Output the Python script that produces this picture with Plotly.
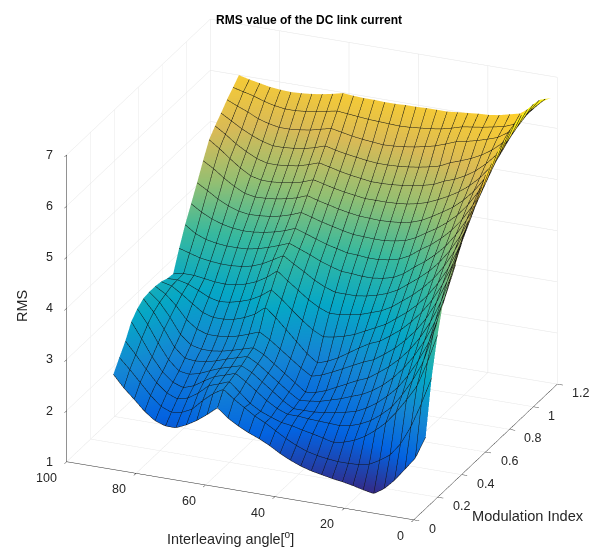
import plotly.graph_objects as go

angle = [0,3,6,9,12,15,18,21,24,27,30,33,36,39,42,45,48,51,54,57,60,63,66,69,72,75,78,81,84,87,90]
mod_index = [0.1,0.15,0.2,0.25,0.3,0.35,0.4,0.45,0.5,0.55,0.6,0.65,0.7,0.75,0.8,0.85,0.9,0.95,1.0,1.05,1.1,1.15]
rms = [
[2.4,1.95,1.7,1.45,1.25,1.12,1.16,1.21,1.25,1.28,1.32,1.36,1.42,1.5,1.6,1.72,1.82,1.9,2.0,2.12,2.29,2.12,1.97,1.85,1.76,1.76,1.83,1.98,2.18,2.37,2.6],
[3.45,2.9,2.42,2.05,1.8,1.66,1.55,1.51,1.5,1.5,1.52,1.55,1.6,1.68,1.78,1.9,2.02,2.12,2.25,2.38,2.54,2.42,2.25,2.05,1.95,1.92,2.0,2.18,2.4,2.62,2.82],
[4.18,3.6,3.1,2.8,2.52,2.28,2.1,1.95,1.84,1.77,1.73,1.78,1.83,1.87,1.92,1.95,2.02,2.1,2.22,2.4,2.58,2.5,2.43,2.25,2.12,2.07,2.15,2.32,2.55,2.8,3.03],
[4.76,4.05,3.45,3.07,2.75,2.48,2.3,2.15,2.05,1.98,1.95,1.96,1.97,1.98,2.0,2.0,2.08,2.2,2.35,2.5,2.63,2.56,2.5,2.38,2.25,2.18,2.25,2.42,2.68,3.0,3.3],
[5.0,4.3,3.74,3.35,3.02,2.75,2.55,2.38,2.25,2.15,2.1,2.06,2.03,2.0,2.0,2.0,2.12,2.27,2.42,2.57,2.67,2.61,2.55,2.47,2.38,2.33,2.36,2.55,2.84,3.17,3.44],
[5.22,4.55,4.02,3.62,3.29,3.02,2.8,2.62,2.48,2.37,2.3,2.22,2.16,2.1,2.07,2.05,2.18,2.33,2.48,2.63,2.74,2.68,2.62,2.55,2.5,2.48,2.5,2.68,3.0,3.3,3.53],
[5.52,4.85,4.3,3.88,3.54,3.27,3.05,2.87,2.72,2.58,2.5,2.4,2.3,2.2,2.13,2.1,2.25,2.4,2.55,2.7,2.8,2.74,2.68,2.63,2.6,2.6,2.65,2.82,3.12,3.38,3.55],
[5.8,5.13,4.58,4.15,3.8,3.53,3.31,3.12,2.97,2.83,2.75,2.65,2.55,2.45,2.36,2.3,2.43,2.58,2.73,2.88,3.0,2.92,2.85,2.8,2.78,2.78,2.85,3.0,3.24,3.43,3.55],
[6.03,5.36,4.82,4.39,4.05,3.78,3.56,3.37,3.22,3.08,3.0,2.88,2.75,2.62,2.52,2.45,2.6,2.8,3.0,3.2,3.37,3.2,3.1,3.03,3.0,3.0,3.06,3.2,3.35,3.48,3.53],
[6.22,5.56,5.03,4.6,4.27,4.0,3.78,3.6,3.45,3.3,3.2,3.1,3.0,2.93,2.88,2.85,2.95,3.1,3.27,3.45,3.6,3.45,3.34,3.27,3.22,3.2,3.25,3.35,3.44,3.49,3.48],
[6.42,5.76,5.24,4.82,4.49,4.22,4.01,3.83,3.68,3.53,3.42,3.35,3.28,3.24,3.21,3.2,3.28,3.4,3.55,3.7,3.86,3.7,3.58,3.5,3.45,3.43,3.44,3.47,3.5,3.5,3.46],
[6.53,5.92,5.42,5.01,4.69,4.43,4.22,4.05,3.9,3.75,3.65,3.58,3.53,3.5,3.5,3.5,3.57,3.67,3.8,3.92,4.05,3.93,3.82,3.74,3.7,3.68,3.68,3.7,3.73,3.79,3.85],
[6.65,6.06,5.58,5.2,4.89,4.63,4.43,4.26,4.12,3.96,3.85,3.8,3.77,3.77,3.79,3.8,3.86,3.93,4.02,4.1,4.18,4.1,4.03,3.97,3.93,3.92,3.92,3.94,3.98,4.06,4.2],
[6.73,6.2,5.75,5.37,5.07,4.83,4.64,4.48,4.35,4.2,4.1,4.05,4.02,4.02,4.04,4.05,4.1,4.15,4.22,4.29,4.36,4.28,4.22,4.18,4.15,4.14,4.16,4.2,4.27,4.37,4.5],
[6.82,6.32,5.9,5.54,5.25,5.02,4.84,4.69,4.57,4.44,4.35,4.31,4.28,4.28,4.29,4.3,4.34,4.39,4.44,4.5,4.56,4.48,4.42,4.38,4.36,4.35,4.38,4.45,4.55,4.68,4.8],
[6.9,6.42,6.02,5.68,5.41,5.2,5.03,4.9,4.78,4.67,4.6,4.56,4.54,4.53,4.54,4.55,4.58,4.62,4.67,4.72,4.78,4.7,4.65,4.61,4.59,4.58,4.62,4.72,4.85,5.0,5.12],
[6.92,6.48,6.1,5.8,5.56,5.37,5.22,5.1,5.0,4.91,4.85,4.81,4.79,4.78,4.78,4.78,4.81,4.84,4.88,4.93,4.98,4.9,4.85,4.82,4.8,4.8,4.85,4.97,5.12,5.28,5.42],
[6.93,6.54,6.2,5.93,5.72,5.55,5.42,5.32,5.25,5.15,5.1,5.06,5.03,5.01,5.0,5.0,5.03,5.06,5.1,5.15,5.2,5.13,5.07,5.04,5.02,5.02,5.08,5.18,5.3,5.45,5.58],
[6.92,6.58,6.28,6.05,5.88,5.75,5.65,5.57,5.5,5.4,5.35,5.31,5.28,5.26,5.25,5.25,5.27,5.3,5.33,5.37,5.42,5.35,5.3,5.27,5.25,5.25,5.3,5.38,5.48,5.6,5.72],
[6.89,6.62,6.37,6.15,6.02,5.95,5.89,5.84,5.8,5.72,5.65,5.6,5.56,5.53,5.51,5.5,5.52,5.54,5.57,5.61,5.65,5.6,5.55,5.52,5.5,5.5,5.54,5.6,5.7,5.78,5.87],
[6.8,6.6,6.38,6.2,6.12,6.08,6.04,6.01,5.98,5.92,5.87,5.84,5.82,5.8,5.79,5.8,5.81,5.82,5.84,5.86,5.88,5.84,5.8,5.77,5.75,5.75,5.78,5.83,5.9,5.95,6.0],
[6.7,6.62,6.45,6.3,6.25,6.2,6.17,6.16,6.14,6.12,6.1,6.1,6.1,6.09,6.09,6.08,6.08,6.09,6.09,6.1,6.12,6.07,6.03,6.0,5.98,5.97,5.98,6.0,6.04,6.08,6.13],
]
x_ticks = [0,20,40,60,80,100]
y_ticks = [0,0.2,0.4,0.6,0.8,1,1.2]
y_tick_labels = ["0","0.2","0.4","0.6","0.8","1","1.2"]
z_ticks = [1,2,3,4,5,6,7]

parula = [[0.0,"#352a87"],[0.125,"#0363e1"],[0.25,"#1485d4"],[0.375,"#06a7c6"],[0.5,"#38b99e"],
          [0.625,"#92bf73"],[0.75,"#d9ba56"],[0.875,"#fcce2e"],[1.0,"#f9fb0e"]]

font = "Liberation Sans, Arial, sans-serif"
ink = "#262626"
def axis(ticks, rng):
    return dict(range=rng, tickmode="array", tickvals=ticks, title=dict(text=""), showticklabels=False,
                showgrid=True, gridcolor="#e4e4e4", gridwidth=1, showline=True, linecolor=ink, linewidth=1,
                ticks="outside", ticklen=6, tickcolor=ink,
                showbackground=False, zeroline=False, showspikes=False)

def tick_note(x, y, z, text, anchor, dx, dy):
    return dict(x=x, y=y, z=z, text=text, showarrow=False, xanchor=anchor, yanchor="middle",
                xshift=dx, yshift=dy, font=dict(family=font, size=12.5, color=ink))

tick_notes = (
    [tick_note(v, 0, 1, str(v), "right", -8, -16) for v in x_ticks]
    + [tick_note(0, v, 1, t, "left", 13, -9) for v, t in zip(y_ticks, y_tick_labels)]
    + [tick_note(100, 0, min(v, 6.99), str(v), "right", -12, 0) for v in z_ticks]
)

fig = go.Figure(go.Surface(
    x=angle, y=mod_index, z=rms, colorscale=parula, showscale=False, cmin=1.12, cmax=7.0,
    lighting=dict(ambient=1, diffuse=0, specular=0, roughness=1, fresnel=0),
    contours=dict(
        x=dict(show=True, start=0, end=90, size=3, color="#111111", width=3),
        y=dict(show=True, start=0.1, end=1.15, size=0.05, color="#111111", width=3),
    ),
    hoverinfo="skip",
))
fig.update_layout(
    width=597, height=549, paper_bgcolor="white", showlegend=False,
    margin=dict(l=0, r=0, t=0, b=0),
    title=dict(text="<b>RMS value of the DC link current</b>", x=309/597, xanchor="center", y=1-20/549, yanchor="middle",
               font=dict(family=font, size=12, color="black")),
    scene=dict(
        domain=dict(x=[0.0452,1], y=[0.0328,0.9854]),
        xaxis=axis(x_ticks, [100,0]),
        yaxis=axis(y_ticks, [0,1.2]),
        zaxis=axis(z_ticks, [1,7]),
        aspectmode="manual", aspectratio=dict(x=1.44, y=1.415, z=1.279),
        camera=dict(projection=dict(type="orthographic"), up=dict(x=0,y=0,z=1),
                    center=dict(x=0,y=0,z=0), eye=dict(x=0.5775,y=-1.372,z=0.6456)),
        annotations=tick_notes,
    ),
    annotations=[
        dict(text="Interleaving angle[<sup>o</sup>]", xref="paper", yref="paper", x=230/597, y=1-538/549,
             showarrow=False, font=dict(family=font, size=14.4, color=ink), xanchor="center", yanchor="middle"),
        dict(text="Modulation Index", xref="paper", yref="paper", x=528/597, y=1-516/549,
             showarrow=False, font=dict(family=font, size=14.6, color=ink), xanchor="center", yanchor="middle"),
        dict(text="RMS", xref="paper", yref="paper", x=22/597, y=1-306/549, textangle=-90,
             showarrow=False, font=dict(family=font, size=14.4, color=ink), xanchor="center", yanchor="middle"),
    ],
)
fig.write_html("out.html", config=dict(displayModeBar=False), post_script="document.body.style.margin='0';")
